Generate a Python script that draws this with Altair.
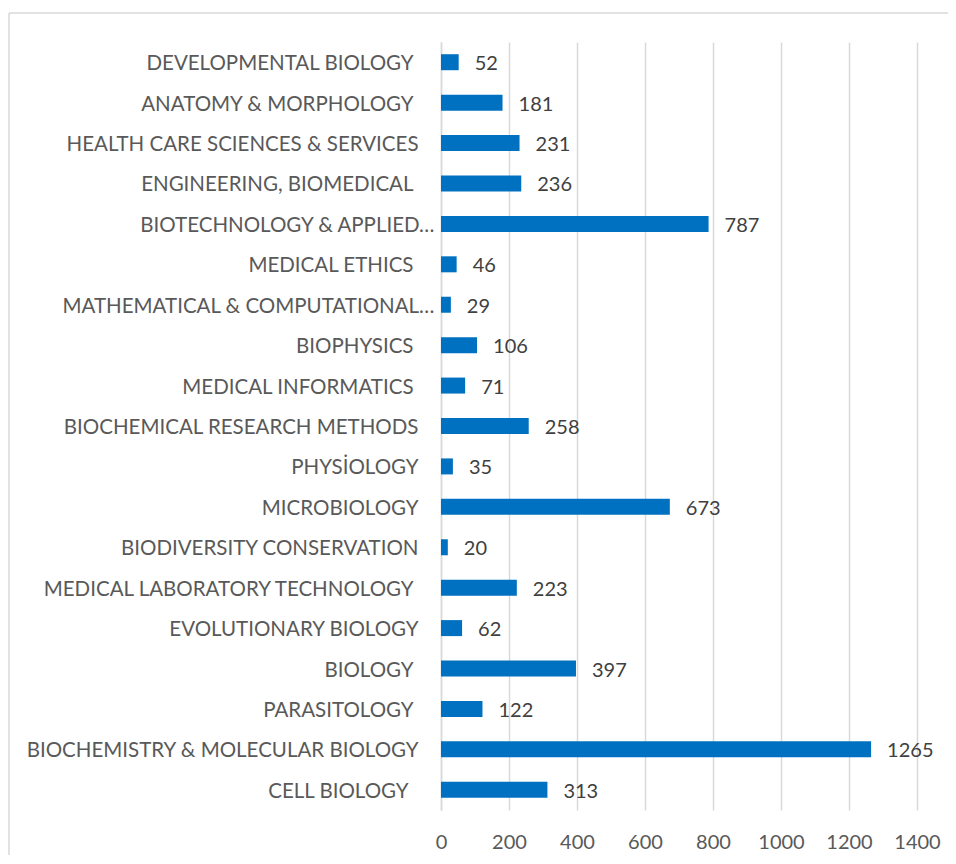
import altair as alt
import pandas as pd

categories = [
    "DEVELOPMENTAL BIOLOGY",
    "ANATOMY & MORPHOLOGY",
    "HEALTH CARE SCIENCES & SERVICES",
    "ENGINEERING, BIOMEDICAL",
    "BIOTECHNOLOGY & APPLIED…",
    "MEDICAL ETHICS",
    "MATHEMATICAL & COMPUTATIONAL…",
    "BIOPHYSICS",
    "MEDICAL INFORMATICS",
    "BIOCHEMICAL RESEARCH METHODS",
    "PHYSİOLOGY",
    "MICROBIOLOGY",
    "BIODIVERSITY CONSERVATION",
    "MEDICAL LABORATORY TECHNOLOGY",
    "EVOLUTIONARY BIOLOGY",
    "BIOLOGY",
    "PARASITOLOGY",
    "BIOCHEMISTRY & MOLECULAR BIOLOGY",
    "CELL BIOLOGY",
]
values = [52, 181, 231, 236, 787, 46, 29, 106, 71, 258, 35, 673, 20, 223, 62, 397, 122, 1265, 313]
# trailing spaces in the original category labels (shift label left)
trailing_spaces = [1, 1, 0, 1, 0, 1, 0, 1, 1, 0, 0, 0, 0, 1, 0, 1, 1, 0, 2]
x_ticks = [0, 200, 400, 600, 800, 1000, 1200, 1400]

df = pd.DataFrame({"category": categories, "value": values})

FONT = "Lato"
W, H = 476, 768

one_sp = [c for c, s in zip(categories, trailing_spaces) if s == 1]
two_sp = [c for c, s in zip(categories, trailing_spaces) if s == 2]


def js_list(items):
    return "[" + ",".join("'" + i.replace("'", "\\'") + "'" for i in items) + "]"


label_padding = {
    "condition": [
        {"test": "indexof(datum.value, '…') >= 0", "value": 7},
        {"test": "indexof(" + js_list(one_sp) + ", datum.value) >= 0", "value": 28},
        {"test": "indexof(" + js_list(two_sp) + ", datum.value) >= 0", "value": 33},
    ],
    "value": 23,
}

y_enc = alt.Y(
    "category:N",
    sort=categories,
    title=None,
    axis=alt.Axis(
        labelFont=FONT,
        labelFontSize=20.5,
        labelColor="#595959",
        labelLimit=600,
        labelPadding=label_padding,
        labelOffset=2,
        ticks=False,
        domainColor="#d9d9d9",
        domainWidth=1.5,
        grid=False,
    ),
)
x_enc = alt.X(
    "value:Q",
    title=None,
    scale=alt.Scale(domain=[0, 1400], nice=False),
    axis=alt.Axis(
        values=x_ticks,
        format="d",
        labelOverlap=False,
        labelFlush=False,
        labelFont=FONT,
        labelFontSize=20,
        labelColor="#595959",
        labelPadding=22,
        ticks=False,
        domain=False,
        grid=True,
        gridColor="#d9d9d9",
        gridWidth=1.5,
    ),
)

bars = alt.Chart(df).mark_bar(size=16, color="#0070C0").encode(x=x_enc, y=y_enc)
labels = alt.Chart(df).mark_text(
    align="left", baseline="middle", dx=16, dy=2, font=FONT, fontSize=20, color="#404040"
).encode(x="value:Q", y=alt.Y("category:N", sort=categories), text="value:Q")

frame_df = pd.DataFrame({"k": [0]})
frame_top = alt.Chart(frame_df).mark_rule(color="#d9d9d9", strokeWidth=1.5).encode(
    x=alt.value(-432), x2=alt.value(700), y=alt.value(-29)
)
frame_left = alt.Chart(frame_df).mark_rule(color="#d9d9d9", strokeWidth=1.5).encode(
    x=alt.value(-432), y=alt.value(-29), y2=alt.value(900)
)

chart = (
    alt.layer(frame_top, frame_left, bars, labels)
    .properties(
        width=W,
        height=H,
        autosize=alt.AutoSizeParams(type="none"),
        padding={"left": 433, "top": 34, "right": 31, "bottom": 45},
        background="white",
    )
    .configure_view(stroke=None)
)

chart.save("out.html", embed_options={"renderer": "svg", "actions": False})
